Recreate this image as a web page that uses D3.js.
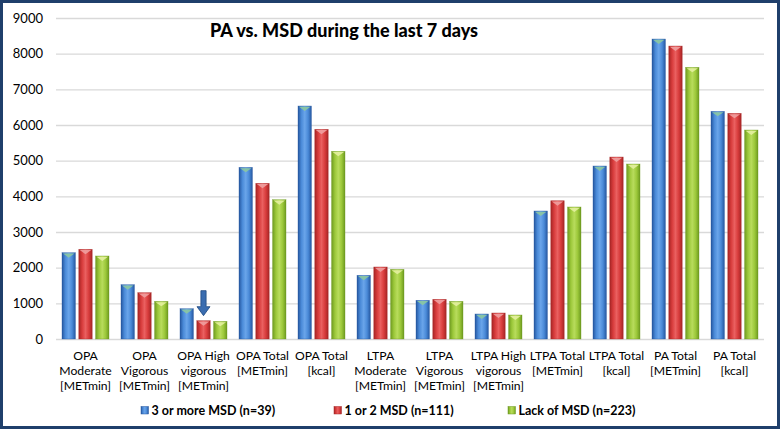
<!DOCTYPE html>
<html><head><meta charset="utf-8">
<script src="https://cdn.jsdelivr.net/npm/d3@7"></script>
<style>
html,body{margin:0;padding:0;background:#fff;}
svg{display:block;font-family:Lato,"Open Sans",sans-serif;}
</style></head>
<body><svg id="c" width="780" height="429"></svg>
<script>
const categories = [
  ["OPA","Moderate","[METmin]"],
  ["OPA","Vigorous","[METmin]"],
  ["OPA High","vigorous","[METmin]"],
  ["OPA Total","[METmin]"],
  ["OPA Total","[kcal]"],
  ["LTPA","Moderate","[METmin]"],
  ["LTPA","Vigorous","[METmin]"],
  ["LTPA High","vigorous","[METmin]"],
  ["LTPA Total","[METmin]"],
  ["LTPA Total","[kcal]"],
  ["PA Total","[METmin]"],
  ["PA Total","[kcal]"]
];
const seriesNames = ["3 or more MSD (n=39)","1 or 2 MSD (n=111)","Lack of MSD (n=223)"];
const msd3 = [2420,1523,850,4813,6532,1786,1085,701,3589,4850,8410,6383];
const msd12 = [2515,1299,514,4365,5879,2019,1113,729,3877,5102,8214,6327];
const noMsd = [2327,1056,495,3906,5262,1953,1056,673,3701,4906,7617,5859];
const yTicks = [0,1000,2000,3000,4000,5000,6000,7000,8000,9000];
const title = "PA vs. MSD during the last 7 days";

const series = [msd3, msd12, noMsd];
const colors = [
  {edge:"#2557a0", mid:"#4a8ad8", light:"#6aa5ea", cap:"#8cc8a0"},
  {edge:"#a52626", mid:"#d83c3c", light:"#ea6060", cap:"#f0a0a0"},
  {edge:"#6e9a20", mid:"#9cc83a", light:"#b8dc5c", cap:"#e4f0a0"}
];

const svg = d3.select("#c");
const W = 780, H = 429;
const L = 56, R = 764, T = 18, B = 339;

const x0 = d3.scaleBand().domain(d3.range(categories.length)).range([L, R]).padding(0);
const x1 = d3.scaleBand().domain(d3.range(3)).range([6, x0.bandwidth()-6]).paddingInner(0.2);
const y = d3.scaleLinear().domain([0, 9000]).range([B, T]);

const defs = svg.append("defs");
colors.forEach((c,i)=>{
  const g = defs.append("linearGradient").attr("id","g"+i).attr("x1","0").attr("x2","1").attr("y1","0").attr("y2","0");
  g.append("stop").attr("offset","0").attr("stop-color",c.edge);
  g.append("stop").attr("offset","0.25").attr("stop-color",c.mid);
  g.append("stop").attr("offset","0.5").attr("stop-color",c.light);
  g.append("stop").attr("offset","0.75").attr("stop-color",c.mid);
  g.append("stop").attr("offset","1").attr("stop-color",c.edge);
});

const yAxis = d3.axisLeft(y).tickValues(yTicks).tickSize(-(R-L)).tickPadding(13).tickFormat(d3.format("d"));
const ga = svg.append("g").attr("transform",`translate(${L},0)`).call(yAxis);
ga.select(".domain").remove();
ga.selectAll(".tick line").attr("stroke","#d9d9d9").attr("stroke-width",1.3);
ga.selectAll(".tick text").attr("fill","#000").attr("font-size",13).attr("font-family","Lato,sans-serif");

const groups = svg.append("g").selectAll("g").data(categories).join("g")
  .attr("transform",(d,i)=>`translate(${x0(i)},0)`);
groups.each(function(d,ci){
  const g = d3.select(this);
  series.forEach((s,si)=>{
    const bx = x1(si), bw = x1.bandwidth(), ty = y(s[ci]);
    g.append("rect").attr("x",bx).attr("y",ty).attr("width",bw).attr("height",y(0)-ty)
      .attr("fill",`url(#g${si})`).attr("stroke",colors[si].edge).attr("stroke-width",0.6).attr("stroke-opacity",0.6);
    g.append("path").attr("d",`M${bx+1},${ty+0.8} L${bx+bw-1},${ty+0.8} L${bx+bw/2},${ty+5} Z`)
      .attr("fill",colors[si].cap).attr("opacity",0.9);
  });
});

{
  const ci = 2;
  const cx = x0(ci) + x1(1) + x1.bandwidth()/2;
  const tip = y(msd12[ci]) - 5;
  const top = tip - 25;
  const hh = 9, sw = 2.6, hw = 6.5;
  svg.append("path")
    .attr("d",`M${cx-sw},${top} L${cx+sw},${top} L${cx+sw},${tip-hh} L${cx+hw},${tip-hh} L${cx},${tip} L${cx-hw},${tip-hh} L${cx-sw},${tip-hh} Z`)
    .attr("fill","#3a6db0").attr("stroke","#1f4a80").attr("stroke-width",0.8);
}

const xl = svg.append("g");
categories.forEach((lines,i)=>{
  const cx = x0(i)+x0.bandwidth()/2;
  const t = xl.append("text").attr("x",cx).attr("y",359.5)
    .attr("text-anchor","middle").attr("font-size",12.2).attr("fill","#000");
  lines.forEach((ln,k)=>t.append("tspan").attr("x",cx).attr("dy",k===0?0:15.3).text(ln));
});

svg.append("text").attr("x",344).attr("y",37).attr("text-anchor","middle")
  .attr("font-size",19).attr("font-weight","900").attr("fill","#000")
  .attr("textLength",268).attr("lengthAdjust","spacingAndGlyphs").text(title);

const legX = [141, 334, 508];
seriesNames.forEach((n,i)=>{
  const g = svg.append("g").attr("transform",`translate(${legX[i]},415)`);
  g.append("rect").attr("x",0).attr("y",-8.5).attr("width",7.5).attr("height",7.5)
    .attr("fill",`url(#g${i})`).attr("stroke",colors[i].edge).attr("stroke-width",0.5);
  g.append("text").attr("x",10.5).attr("y",0).attr("font-size",12.5).attr("font-weight","bold").attr("fill","#000").text(n);
});

svg.append("rect").attr("x",1.5).attr("y",1.5).attr("width",W-3).attr("height",H-3)
  .attr("fill","none").attr("stroke","#1f3f6b").attr("stroke-width",3);
</script></body></html>
